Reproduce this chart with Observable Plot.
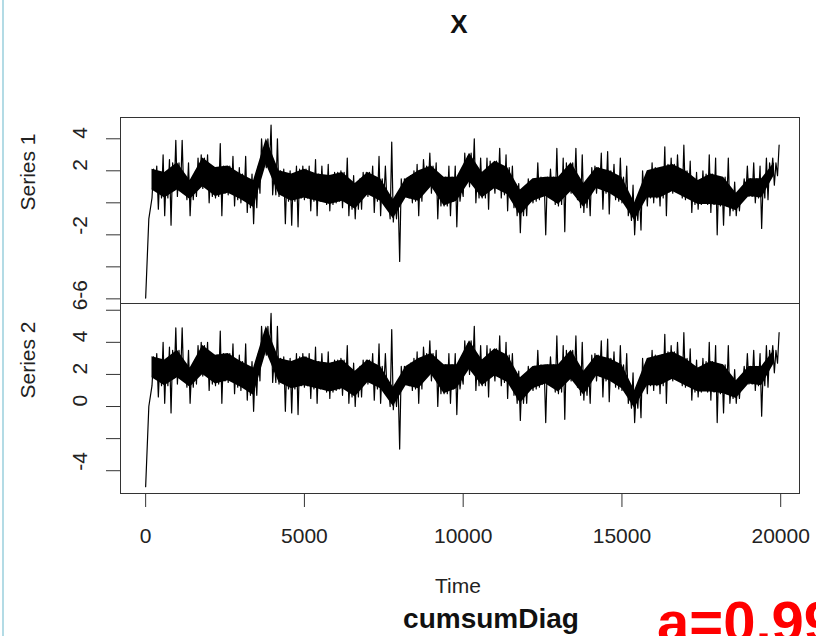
<!DOCTYPE html>
<html>
<head>
<meta charset="utf-8">
<script src="https://cdn.jsdelivr.net/npm/d3@7"></script>
<script src="https://cdn.jsdelivr.net/npm/@observablehq/plot@0.6"></script>
<style>
  html, body { margin: 0; padding: 0; background: #fff; }
  body { width: 816px; height: 636px; position: relative; overflow: hidden; font-family: "Liberation Sans", Arial, sans-serif; }
  .abs { position: absolute; left: 0; }
  #edge { position: absolute; left: 2px; top: 0; width: 2px; height: 636px; background: #b3dbe5; }
  svg { overflow: visible; }
</style>
</head>
<body>
<div id="edge"></div>
<div id="p1" class="abs" style="top:97px"></div>
<div id="p2" class="abs" style="top:283px"></div>
<svg id="txt" class="abs" style="top:0" width="816" height="636">
  <text x="459" y="33" text-anchor="middle" font-family="Liberation Sans, Arial, sans-serif" font-weight="bold" font-size="26" fill="#111">X</text>
  <text x="458" y="593" text-anchor="middle" font-family="Liberation Sans, Arial, sans-serif" font-size="21" fill="#222">Time</text>
  <text x="491" y="628" text-anchor="middle" font-family="Liberation Sans, Arial, sans-serif" font-weight="bold" font-size="28" fill="#111">cumsumDiag</text>
  <text x="657" y="642" text-anchor="start" font-family="Liberation Sans, Arial, sans-serif" font-weight="bold" font-size="58" fill="#ff0000">a=0.99</text>
</svg>
<script>
// time index of the envelope bins (every 200 steps) and of the core band (every 400 steps)
const time = d3.range(0, 19801, 200);
const coreTime = d3.range(200, 19801, 400);

// Series 1: lower / upper extremes per bin
const lo1 = [-5.95,0.3,-0.4,-0.8,-1.4,0.4,0.6,-0.8,0.4,0.9,
0.0,0.3,-0.8,0.5,-0.2,0.0,-0.6,-1.3,0.6,2.2,
0.5,0.4,-1.3,-1.4,-1.5,0.2,-0.5,-0.8,0.2,-0.5,
0.0,-0.3,-0.8,-1.0,-0.4,0.4,-0.6,-0.8,0.1,-1.2,
-3.66,0.5,0.0,-0.8,1.3,0.6,-1.0,-0.2,-0.8,-1.5,
0.4,1.0,0.0,0.3,-0.4,0.6,0.3,-0.5,-0.3,-1.87,
-0.8,0.0,0.2,-2.0,0.4,-0.2,-1.8,0.6,0.2,-0.6,
-0.8,0.6,-0.4,-0.7,0.2,0.0,-0.8,-2.0,-1.7,-0.2,
0.0,-0.2,-0.8,0.6,0.9,0.2,-0.6,-0.4,0.2,-0.6,
-2.0,-1.4,-0.8,-0.8,0.4,0.4,0.0,-1.6,0.2,1.1];
const hi1 = [-1.0,2.3,3.0,2.7,3.9,3.9,2.5,1.9,3.0,3.0,
2.2,3.7,2.0,2.9,2.2,2.9,1.8,2.3,2.9,4.86,
4.0,2.1,2.0,2.3,2.3,2.3,2.7,2.3,2.4,1.9,
2.0,2.8,1.7,1.5,1.9,2.3,2.9,2.3,3.8,0.4,
1.5,1.7,2.4,2.7,3.1,2.5,1.3,2.3,2.3,1.0,
2.9,4.0,2.8,2.8,1.9,3.4,3.0,2.3,1.2,0.9,
0.6,2.5,1.5,2.1,3.4,2.8,1.5,3.4,3.0,1.3,
2.3,3.1,3.2,2.4,2.8,2.3,1.1,0.6,1.5,2.5,
1.9,3.5,2.8,3.0,3.6,2.6,1.9,2.0,3.0,2.8,
1.4,2.8,1.3,0.8,2.3,2.5,2.3,2.8,2.8,3.6];
// Series 1: dense core band
const coreLo1 = [0.8,0.3,0.8,0.2,1.0,0.4,0.6,0.2,-0.3,2.4,
0.5,0.1,0.3,0.1,-0.1,0.1,-0.4,0.5,0.1,-1.0,
0.3,0.1,1.0,-0.2,0.1,1.3,0.3,0.9,0.5,-0.8,
0.1,0.4,-0.1,0.7,-0.3,0.9,0.6,0.1,-1.1,0.3,
0.3,0.7,0.3,-0.1,-0.1,-0.2,-0.5,0.4,0.3,1.7];
const coreHi1 = [2.1,1.9,2.5,1.4,2.8,2.2,2.3,1.8,1.4,4.0,
2.0,1.8,2.1,1.8,1.7,1.9,1.2,1.9,1.5,0.2,
1.5,2.0,2.3,1.6,1.6,3.1,1.9,2.6,2.2,0.8,
1.5,1.6,1.6,2.5,1.2,2.2,2.0,1.6,0.0,2.0,
2.2,2.4,2.0,1.4,1.8,1.6,0.6,1.5,1.5,2.5];

// Series 2
const lo2 = [-5.0,1.3,0.6,0.2,-0.4,1.4,1.6,0.2,1.4,1.9,
1.0,1.3,0.2,1.5,0.8,1.0,0.4,-0.3,1.6,3.2,
1.5,1.4,-0.3,-0.4,-0.5,1.2,0.5,0.2,1.2,0.5,
1.0,0.7,0.2,0.0,0.6,1.4,0.4,0.2,1.1,-0.2,
-2.65,1.5,1.0,0.2,2.3,1.6,0.0,0.8,0.2,-0.5,
1.4,2.0,1.0,1.3,0.6,1.6,1.3,0.5,0.7,-0.87,
0.2,1.0,1.2,-1.0,1.4,0.8,-0.8,1.6,1.2,0.4,
0.2,1.6,0.6,0.3,1.2,1.0,0.2,-1.0,-0.7,0.8,
1.0,0.8,0.2,1.6,1.9,1.2,0.4,0.6,1.2,0.4,
-1.0,-0.4,0.2,0.2,1.4,1.4,1.0,-0.6,1.2,2.1];
const hi2 = [0.0,3.3,4.0,3.7,4.9,4.9,3.5,2.9,4.0,4.0,
3.2,4.7,3.0,3.9,3.2,3.9,2.8,3.3,3.9,5.8,
5.0,3.1,3.0,3.3,3.3,3.3,3.7,3.3,3.4,2.9,
3.0,3.8,2.7,2.5,2.9,3.3,3.9,3.3,4.8,1.4,
2.5,2.7,3.4,3.7,4.1,3.5,2.3,3.3,3.3,2.0,
3.9,5.0,3.8,3.8,2.9,4.4,4.0,3.3,2.2,1.9,
1.6,3.5,2.5,3.1,4.4,3.8,2.5,4.4,4.0,2.3,
3.3,4.1,4.2,3.4,3.8,3.3,2.1,1.6,2.5,3.5,
2.9,4.5,3.8,4.0,4.6,3.6,2.9,3.0,4.0,3.8,
2.4,3.8,2.3,1.8,3.3,3.5,3.3,3.8,3.8,4.6];
const coreLo2 = [1.8,1.3,1.8,1.2,2.0,1.4,1.6,1.2,0.7,3.4,
1.5,1.1,1.3,1.1,0.9,1.1,0.6,1.5,1.1,0.0,
1.3,1.1,2.0,0.8,1.1,2.3,1.3,1.9,1.5,0.2,
1.1,1.4,0.9,1.7,0.7,1.9,1.6,1.1,-0.1,1.3,
1.3,1.7,1.3,0.9,0.9,0.8,0.5,1.4,1.3,2.7];
const coreHi2 = [3.1,2.9,3.5,2.4,3.8,3.2,3.3,2.8,2.4,5.0,
3.0,2.8,3.1,2.8,2.7,2.9,2.2,2.9,2.5,1.2,
2.5,3.0,3.3,2.6,2.6,4.1,2.9,3.6,3.2,1.8,
2.5,2.6,2.6,3.5,2.2,3.2,3.0,2.6,1.0,3.0,
3.2,3.4,3.0,2.4,2.8,2.6,1.6,2.5,2.5,3.5];

// axes
const xTicks = [0, 5000, 10000, 15000, 20000];
const yTicks1 = [4, 2, 0, -2, -4, -6];
const yLabels1 = ["4", "2", "", "-2", "", "-6"];
const yTicks2 = [6, 4, 2, 0, -2, -4];
const yLabels2 = ["6", "4", "2", "0", "", "-4"];
const seriesNames = ["Series 1", "Series 2"];

const font = "Liberation Sans, Arial, sans-serif";

function panel({lo, hi, cLo, cHi, domain, ticks, labels, name, withX}) {
  // dense zigzag through the values read per bin: spike low, core top, core bottom, spike high
  const zig = time.flatMap((t, i) => {
    if (i === 0) return [{t, v: lo[i]}, {t: t + 100, v: hi[i]}];
    const k = Math.min(cLo.length - 1, Math.floor(i / 2));
    return [
      {t, v: lo[i]},
      {t: t + 50, v: cHi[k]},
      {t: t + 100, v: cLo[k]},
      {t: t + 150, v: hi[i]}
    ];
  });
  const core = coreTime.map((t, i) => ({t, lo: cLo[i], hi: cHi[i]}));
  const frameH = withX ? 190 : 186;
  const marginBottom = withX ? 70 : 20;
  const marks = [
    Plot.areaY(core, {x: "t", y1: "lo", y2: "hi", fill: "#000"}),
    Plot.line(zig, {x: "t", y: "v", stroke: "#000", strokeWidth: 1.2}),
    Plot.frame({stroke: "#333", strokeWidth: 1}),
    Plot.axisY({ticks, tickSize: 14, tickFormat: () => "", label: null, stroke: "#333"}),
    Plot.text(ticks, {y: d => d, text: (d, i) => labels[i], frameAnchor: "left", dx: -40, rotate: -90, fontSize: 21, fill: "#222"}),
    Plot.text([name], {text: d => d, frameAnchor: "left", dx: -92, rotate: -90, fontSize: 21, fill: "#222"})
  ];
  if (withX) {
    marks.push(Plot.axisX({ticks: xTicks, tickSize: 14, tickPadding: 21, tickFormat: d => String(d), fontSize: 21, label: null, stroke: "#333", fill: "#222"}));
  }
  return Plot.plot({
    width: 816,
    height: 20 + frameH + marginBottom,
    marginLeft: 120,
    marginRight: 17,
    marginTop: 20,
    marginBottom,
    x: {domain: [-792, 20592], axis: null},
    y: {domain, axis: null},
    style: {fontFamily: font, fontSize: "21px", color: "#222", background: "transparent", overflow: "visible"},
    marks
  });
}

document.getElementById("p1").appendChild(panel({
  lo: lo1, hi: hi1, cLo: coreLo1, cHi: coreHi1,
  domain: [-6.29, 5.33], ticks: yTicks1, labels: yLabels1, name: seriesNames[0], withX: false
}));
document.getElementById("p2").appendChild(panel({
  lo: lo2, hi: hi2, cLo: coreLo2, cHi: coreHi2,
  domain: [-5.42, 6.42], ticks: yTicks2, labels: yLabels2, name: seriesNames[1], withX: true
}));
</script>
</body>
</html>
